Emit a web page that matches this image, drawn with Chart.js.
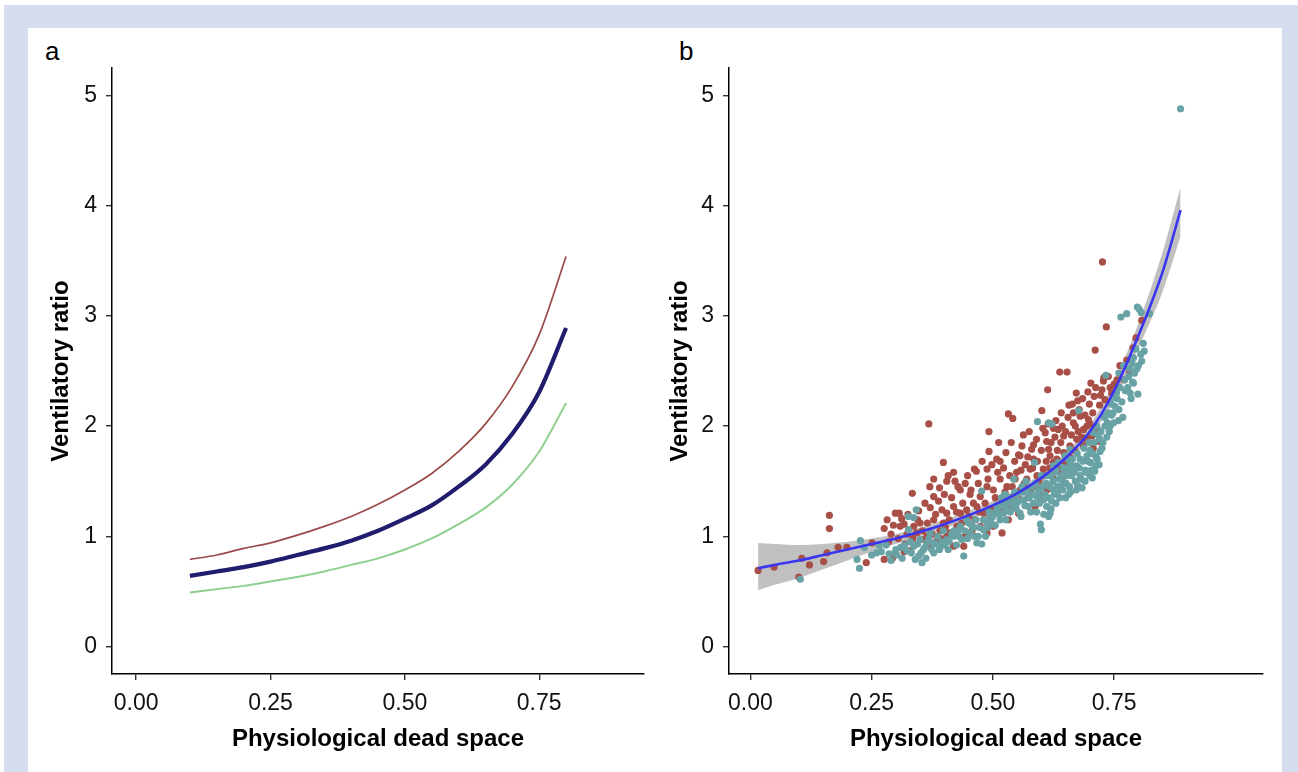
<!DOCTYPE html>
<html><head><meta charset="utf-8">
<script src="https://cdn.jsdelivr.net/npm/chart.js@4.4.0/dist/chart.umd.min.js"></script>
<style>
html,body{margin:0;padding:0;background:#fff;width:1298px;height:772px;overflow:hidden;font-family:"Liberation Sans",Arial,sans-serif;}
#frame{position:absolute;left:4px;top:5px;width:1294px;height:820px;background:#d5ddef;}
#panel{position:absolute;left:28px;top:28px;width:1254px;height:800px;background:#fff;}
.wrap{position:absolute;}
.lbl{position:absolute;font-size:26px;color:#000;line-height:1;font-family:"Liberation Sans",Arial,sans-serif;}
</style></head><body>
<div id="frame"></div><div id="panel"></div>
<div class="lbl" style="left:45px;top:38px">a</div>
<div class="lbl" style="left:679px;top:38px">b</div>
<div class="wrap" style="left:28px;top:28px;width:640px;height:744px"><canvas id="ca"></canvas></div>
<div class="wrap" style="left:661px;top:28px;width:620px;height:744px"><canvas id="cb"></canvas></div>
<script>
const FONT = '"Liberation Sans", Arial, sans-serif';

// ---------- Panel a data ----------
const curveX     = [0.10,0.15,0.20,0.25,0.30,0.35,0.40,0.45,0.50,0.55,0.60,0.65,0.70,0.75,0.80];
const redCurve   = [0.79,0.83,0.89,0.94,1.01,1.09,1.18,1.29,1.42,1.57,1.77,2.02,2.36,2.83,3.54];
const navyCurve  = [0.64,0.68,0.72,0.77,0.83,0.89,0.96,1.05,1.16,1.28,1.45,1.65,1.93,2.31,2.89];
const greenCurve = [0.49,0.52,0.55,0.59,0.63,0.68,0.74,0.80,0.88,0.98,1.11,1.26,1.47,1.77,2.21];

// ---------- Panel b data ----------
const loessX = [0.016,0.05,0.10,0.15,0.20,0.25,0.30,0.35,0.40,0.45,0.50,0.55,0.60,0.65,0.70,0.75,0.80,0.85,0.887];
const loessY = [0.71,0.74,0.78,0.83,0.88,0.93,0.98,1.04,1.11,1.19,1.28,1.39,1.53,1.71,1.95,2.32,2.82,3.40,3.96];
const bandLo = [0.51,0.56,0.62,0.70,0.78,0.86,0.93,1.00,1.07,1.15,1.24,1.35,1.49,1.66,1.89,2.24,2.71,3.22,3.72];
const bandHi = [0.94,0.93,0.92,0.93,0.95,0.98,1.02,1.08,1.15,1.23,1.32,1.43,1.57,1.76,2.01,2.40,2.93,3.58,4.17];

const redPts = [
[0.016,0.69],[0.049,0.72],[0.100,0.63],[0.106,0.80],[0.122,0.74],[0.151,0.77],[0.158,0.85],[0.163,1.19],[0.163,1.07],[0.181,0.90],[0.199,0.90],[0.239,0.76],[0.251,0.94],
[0.276,0.79],[0.276,1.07],[0.282,1.15],[0.299,1.21],[0.307,1.21],[0.290,1.02],[0.293,0.80],[0.317,1.11],[0.323,1.02],[0.319,0.93],[0.317,0.86],[0.309,1.09],[0.334,1.39],[0.330,0.87],[0.337,1.09],[0.343,1.03],[0.347,1.23],[0.350,1.12],[0.357,0.97],[0.364,1.00],[0.368,2.02],[0.370,1.45],[0.371,1.26],[0.371,0.91],[0.378,1.36],[0.378,1.15],[0.378,1.52],[0.385,0.97],[0.390,1.44],[0.391,1.05],[0.395,1.24],[0.398,1.12],[0.398,1.67],[0.405,1.50],[0.405,1.21],[0.405,1.00],[0.408,1.55],[0.412,1.03],[0.419,1.27],[0.419,1.58],[0.419,0.91],[0.422,1.50],[0.426,1.09],[0.433,1.21],[0.433,1.42],[0.440,0.91],[0.443,1.48],[0.443,1.00],[0.446,1.24],[0.453,1.38],[0.457,1.05],[0.460,1.30],[0.462,1.61],[0.466,1.59],[0.467,1.27],[0.474,1.36],[0.474,1.09],[0.481,1.21],[0.488,1.61],[0.488,1.45],[0.488,1.03],[0.492,1.95],[0.492,1.77],[0.494,1.18],[0.501,1.42],[0.501,1.09],[0.508,1.70],[0.515,1.68],[0.515,1.52],[0.515,1.23],[0.519,1.03],[0.527,1.76],[0.529,1.45],[0.532,2.11],[0.532,1.15],[0.536,1.27],[0.541,2.07],[0.543,1.36],[0.546,1.52],[0.549,1.58],[0.553,1.74],[0.553,1.21],[0.556,1.73],[0.556,1.42],[0.563,1.92],[0.567,1.65],[0.570,1.52],[0.573,1.35],[0.577,1.61],[0.580,1.79],[0.584,1.83],[0.584,1.70],[0.584,1.45],[0.587,1.27],[0.591,1.55],[0.598,1.36],[0.598,1.45],[0.601,2.14],[0.604,1.61],[0.608,1.94],[0.611,1.86],[0.611,1.42],[0.613,2.33],[0.615,1.79],[0.618,1.73],[0.625,1.98],[0.625,1.67],[0.625,1.52],[0.632,1.70],[0.635,1.97],[0.638,2.49],[0.639,1.58],[0.641,2.12],[0.646,1.91],[0.646,1.76],[0.649,1.55],[0.652,1.64],[0.653,2.49],[0.657,2.19],[0.659,1.82],[0.666,2.03],[0.666,2.12],[0.672,2.30],[0.673,1.88],[0.675,2.23],[0.680,2.09],[0.687,1.97],[0.687,1.82],[0.694,2.00],[0.696,2.31],[0.697,2.06],[0.702,2.39],[0.704,1.91],[0.707,1.80],[0.709,2.27],[0.711,2.69],[0.718,1.86],[0.720,2.19],[0.725,2.33],[0.726,3.49],[0.728,2.41],[0.729,2.44],[0.731,2.24],[0.734,2.90],[0.742,2.35],[0.789,2.71],[0.807,2.96],
[0.285,0.95],[0.295,1.10],[0.305,0.98],[0.312,1.16],[0.325,1.20],[0.335,0.98],[0.345,1.15],[0.355,1.05],[0.360,1.30],[0.365,1.12],[0.375,1.02],[0.382,1.20],[0.388,1.32],[0.393,0.98],[0.400,1.38],[0.402,1.08],[0.410,1.15],[0.415,1.35],[0.425,1.22],[0.428,1.45],[0.436,1.12],[0.438,1.30],[0.448,1.55],[0.450,1.18],[0.455,1.42],[0.463,1.15],[0.470,1.48],[0.472,1.22],[0.478,1.68],[0.484,1.30],[0.490,1.52],[0.496,1.25],[0.498,1.65],[0.505,1.35],[0.510,1.58],[0.512,1.85],[0.518,1.30],[0.522,1.62],[0.525,1.40],[0.535,1.55],[0.538,1.85],[0.540,1.45],[0.545,1.68],[0.552,1.35],[0.558,1.60],[0.560,1.82],[0.565,1.48],[0.572,1.72],[0.575,1.95],[0.578,1.42],[0.582,1.62],[0.590,1.88],[0.592,1.68],[0.595,1.50],[0.600,1.78],[0.603,1.98],[0.606,1.55],[0.610,1.68],[0.614,2.02],[0.617,1.62],[0.620,1.85],[0.622,1.58],[0.628,1.90],[0.630,2.05],[0.633,1.78],[0.636,1.62],[0.640,1.85],[0.643,2.00],[0.648,1.68],[0.650,1.95],[0.655,2.08],[0.658,1.72],[0.662,1.92],[0.664,2.20],[0.668,1.78],[0.670,2.00],[0.676,1.95],[0.678,2.15],[0.683,1.90],[0.685,2.25],[0.690,2.10],[0.692,1.88],[0.699,2.20],[0.700,2.02],[0.706,2.12],[0.712,2.35],[0.715,1.98],[0.722,2.28],[0.738,2.45],[0.745,2.30],[0.750,2.38],[0.756,2.42],[0.762,2.55],[0.770,2.42],[0.776,2.60],[0.782,2.50],[0.795,2.80]
];
const tealPts = [
[0.103,0.61],[0.220,0.79],[0.225,0.71],[0.227,0.96],[0.260,0.85],[0.270,0.86],[0.280,0.92],[0.286,0.84],[0.299,0.85],[0.300,0.88],[0.302,0.83],[0.310,0.90],[0.313,0.80],[0.326,1.18],[0.326,1.06],[0.330,0.95],[0.332,0.85],[0.337,1.17],[0.337,0.91],[0.340,0.79],[0.342,1.24],[0.347,0.82],[0.350,0.97],[0.354,0.76],[0.357,0.88],[0.360,0.90],[0.364,0.94],[0.371,1.03],[0.378,0.94],[0.378,0.85],[0.390,0.88],[0.391,0.90],[0.400,0.92],[0.405,0.97],[0.410,0.95],[0.419,1.00],[0.420,1.05],[0.430,1.00],[0.433,1.09],[0.440,0.82],[0.446,1.15],[0.450,1.12],[0.453,1.03],[0.460,1.08],[0.467,0.94],[0.470,1.00],[0.477,0.93],[0.477,1.41],[0.481,1.06],[0.488,1.12],[0.490,1.08],[0.494,1.17],[0.500,1.18],[0.501,1.21],[0.510,1.25],[0.515,1.15],[0.520,1.28],[0.522,1.21],[0.525,1.38],[0.529,1.24],[0.530,1.30],[0.540,1.33],[0.543,1.27],[0.543,1.52],[0.549,1.30],[0.550,1.38],[0.556,1.21],[0.560,1.45],[0.563,1.33],[0.570,1.40],[0.573,1.27],[0.580,1.45],[0.584,1.30],[0.586,1.67],[0.591,1.36],[0.592,2.04],[0.598,1.39],[0.598,1.11],[0.600,1.06],[0.600,1.55],[0.604,1.33],[0.610,1.48],[0.611,1.27],[0.615,1.18],[0.615,2.03],[0.618,1.21],[0.620,1.55],[0.620,1.25],[0.622,2.02],[0.625,1.42],[0.625,1.64],[0.630,1.60],[0.630,1.30],[0.632,1.45],[0.635,1.67],[0.639,1.52],[0.640,1.45],[0.645,1.62],[0.646,1.49],[0.649,1.73],[0.650,1.35],[0.652,1.55],[0.655,1.70],[0.656,1.38],[0.659,1.58],[0.659,1.79],[0.660,1.66],[0.660,1.40],[0.666,1.61],[0.670,1.50],[0.673,1.64],[0.675,1.46],[0.677,2.14],[0.680,1.70],[0.680,1.55],[0.684,1.44],[0.690,1.60],[0.690,1.50],[0.694,1.73],[0.700,1.78],[0.700,1.55],[0.701,1.67],[0.705,1.53],[0.707,1.94],[0.710,1.59],[0.712,1.64],[0.714,2.00],[0.715,1.70],[0.721,1.77],[0.721,1.88],[0.725,1.80],[0.731,2.00],[0.732,2.09],[0.733,2.46],[0.736,2.03],[0.740,1.95],[0.745,2.10],[0.749,2.03],[0.749,2.26],[0.755,2.30],[0.759,2.05],[0.760,2.15],[0.760,2.48],[0.764,2.99],[0.768,2.08],[0.770,2.55],[0.773,2.32],[0.776,3.02],[0.780,2.45],[0.783,2.30],[0.785,2.25],[0.787,2.57],[0.790,2.39],[0.790,2.62],[0.795,2.70],[0.797,2.52],[0.798,3.08],[0.799,2.29],[0.802,3.06],[0.806,3.03],[0.807,2.59],[0.810,2.75],[0.823,3.02],[0.887,4.88],
[0.235,0.90],[0.250,0.83],[0.265,0.92],[0.290,0.78],[0.318,0.92],[0.322,0.87],[0.345,0.93],[0.352,0.85],[0.362,0.80],[0.368,0.98],[0.374,0.88],[0.382,0.93],[0.386,1.00],[0.395,0.95],[0.398,1.05],[0.408,0.88],[0.415,1.02],[0.425,0.92],[0.428,1.05],[0.436,0.97],[0.442,1.05],[0.448,0.98],[0.456,1.10],[0.462,1.00],[0.465,1.15],[0.472,1.08],[0.480,1.15],[0.485,1.00],[0.492,1.22],[0.497,1.12],[0.505,1.10],[0.508,1.28],[0.513,1.20],[0.518,1.35],[0.527,1.15],[0.533,1.35],[0.536,1.22],[0.545,1.40],[0.548,1.25],[0.553,1.32],[0.558,1.18],[0.562,1.40],[0.566,1.28],[0.568,1.50],[0.575,1.35],[0.578,1.22],[0.582,1.38],[0.588,1.48],[0.590,1.22],[0.594,1.42],[0.596,1.30],[0.602,1.45],[0.605,1.20],[0.607,1.38],[0.612,1.55],[0.614,1.35],[0.617,1.45],[0.621,1.32],[0.624,1.50],[0.627,1.38],[0.629,1.58],[0.633,1.40],[0.636,1.52],[0.638,1.35],[0.642,1.55],[0.644,1.42],[0.648,1.60],[0.651,1.48],[0.654,1.62],[0.658,1.45],[0.662,1.55],[0.664,1.70],[0.668,1.58],[0.672,1.42],[0.674,1.75],[0.678,1.62],[0.682,1.52],[0.686,1.68],[0.688,1.80],[0.692,1.58],[0.696,1.68],[0.698,1.85],[0.703,1.60],[0.706,1.75],[0.709,1.85],[0.713,1.72],[0.717,1.92],[0.719,1.65],[0.723,1.95],[0.727,1.85],[0.730,2.08],[0.735,1.90],[0.738,2.12],[0.742,2.00],[0.744,2.20],[0.748,2.12],[0.752,2.18],[0.756,2.25],[0.762,2.35],[0.766,2.22],[0.772,2.42],[0.778,2.35],[0.782,2.52],[0.788,2.40],[0.792,2.48],[0.800,2.55],[0.805,2.65],[0.812,2.68]
];

// ---------- Axes ----------
const xTickVals = [0, 0.25, 0.5, 0.75];
const xTickLabels = ['0.00','0.25','0.50','0.75'];
const yTickVals = [0,1,2,3,4,5];
const yTickLabels = ['0','1','2','3','4','5'];
const xTitle = 'Physiological dead space';
const yTitle = 'Ventilatory ratio';

function axis(min, max, vals, labels, title, horizontal, size, titlePad, tickPad){
  return {
    type:'linear', min:min, max:max, offset:false,
    afterBuildTicks: s => { s.ticks = vals.map(v => ({value:v})); },
    afterFit: s => { if (horizontal) s.height = size; else s.width = size; },
    grid:{drawOnChartArea:false, drawTicks:true, tickLength:6, color:'#333', lineWidth:1.4},
    border:{display:true, color:'#000', width:1.5},
    ticks:{color:'#111', font:{family:FONT, size:23}, padding:tickPad, autoSkip:false, maxRotation:0,
           callback:(v,i) => labels[i]},
    title:{display:true, text:title, color:'#000', font:{family:FONT, size:24, weight:'bold'}, padding:titlePad}
  };
}
const pts = (xs, ys) => xs.map((x,i) => ({x:x, y:ys[i]}));
const pairs = arr => arr.map(p => ({x:p[0], y:p[1]}));
const common = {
  responsive:true, maintainAspectRatio:false, animation:false,
  plugins:{legend:{display:false}, tooltip:{enabled:false}}
};

new Chart(document.getElementById('ca'), {
  type:'scatter',
  data:{datasets:[
    {data:pts(curveX, redCurve), showLine:true, borderColor:'#9a4a48', borderWidth:1.7, pointRadius:0, cubicInterpolationMode:'monotone'},
    {data:pts(curveX, navyCurve), showLine:true, borderColor:'#201c6e', borderWidth:4.2, pointRadius:0, cubicInterpolationMode:'monotone'},
    {data:pts(curveX, greenCurve), showLine:true, borderColor:'#8dcf8d', borderWidth:1.9, pointRadius:0, cubicInterpolationMode:'monotone'}
  ]},
  options:Object.assign({}, common, {
    layout:{padding:{left:14, right:24, top:40, bottom:8}},
    scales:{
      x: axis(-0.045, 0.945, xTickVals, xTickLabels, xTitle, true, 90, {top:0, bottom:10.6}, 10),
      y: axis(-0.25, 5.25, yTickVals, yTickLabels, yTitle, false, 70, {top:4.6, bottom:0}, 9)
    }
  })
});

new Chart(document.getElementById('cb'), {
  type:'scatter',
  data:{datasets:[
    {data:pts(loessX, loessY), showLine:true, borderColor:'#3a35f0', borderWidth:2.6, pointRadius:0, cubicInterpolationMode:'monotone', order:0},
    {data:pairs(tealPts), backgroundColor:'#68a2a5', borderWidth:0, pointRadius:3.6, order:1},
    {data:pairs(redPts), backgroundColor:'#a84f48', borderWidth:0, pointRadius:3.6, order:2},
    {data:pts(loessX, bandHi), showLine:true, borderWidth:0, borderColor:'rgba(0,0,0,0)', pointRadius:0, cubicInterpolationMode:'monotone', fill:'+1', backgroundColor:'rgba(150,150,150,0.6)', order:3},
    {data:pts(loessX, bandLo), showLine:true, borderWidth:0, borderColor:'rgba(0,0,0,0)', pointRadius:0, cubicInterpolationMode:'monotone', order:4}
  ]},
  options:Object.assign({}, common, {
    layout:{padding:{left:2, right:18, top:40, bottom:8}},
    scales:{
      x: axis(-0.044, 1.057, xTickVals, xTickLabels, xTitle, true, 90, {top:0, bottom:10.6}, 10),
      y: axis(-0.25, 5.25, yTickVals, yTickLabels, yTitle, false, 66, {top:2.6, bottom:0}, 9)
    }
  })
});
</script>
</body></html>
